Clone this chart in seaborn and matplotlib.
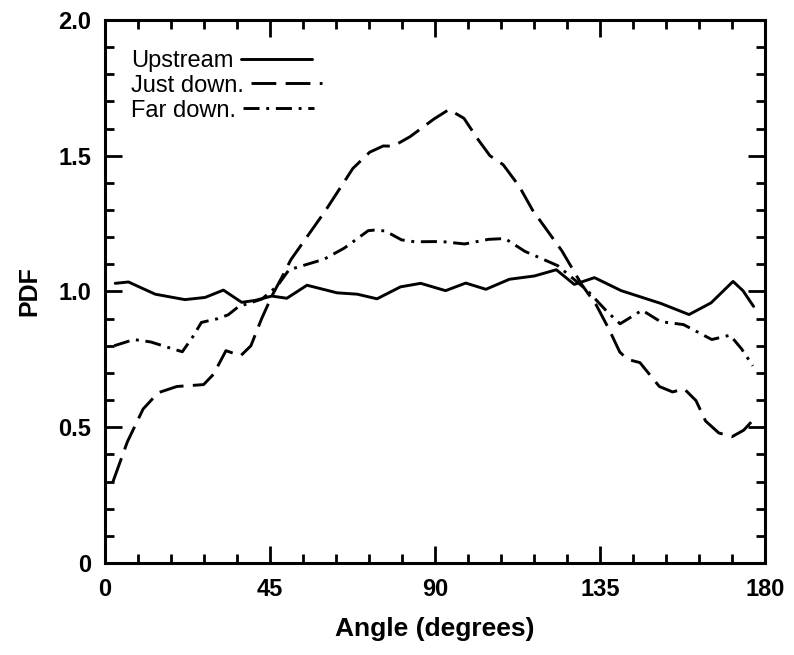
import numpy as np
import pandas as pd
import matplotlib
matplotlib.use("Agg")
import matplotlib.pyplot as plt
import seaborn as sns
from matplotlib.ticker import MultipleLocator

sns.set_theme(style="white")
plt.rcParams['font.family'] = ['Liberation Sans', 'DejaVu Sans']
plt.rcParams['text.color'] = 'black'
plt.rcParams['axes.labelcolor'] = 'black'
plt.rcParams['xtick.color'] = 'black'
plt.rcParams['ytick.color'] = 'black'

series_names = ['Upstream', 'Just down.', 'Far down.']

up_x = [2.8, 6.4, 13.7, 21.8, 27.3, 32.3, 37.3, 40.9, 45.5, 49.6, 55.1, 63.3, 68.8,
        74.2, 80.6, 86.1, 92.9, 98.4, 103.9, 110.3, 117.1, 123.1, 128.0, 133.5,
        140.8, 151.6, 159.3, 165.3, 171.3, 174.0, 176.9]
up_y = [1.03, 1.035, 0.99, 0.97, 0.978, 1.005, 0.96, 0.967, 0.983, 0.975, 1.023,
        0.995, 0.99, 0.973, 1.017, 1.03, 1.003, 1.031, 1.008, 1.045, 1.057, 1.08,
        1.026, 1.051, 1.003, 0.956, 0.915, 0.958, 1.037, 1.003, 0.945]

jd_x = [2.2, 6.1, 10.4, 14.5, 19.6, 26.9, 29.6, 33.0, 37.0, 39.8, 42.7, 45.5, 48.4,
        50.7, 60.1, 67.6, 72.2, 75.9, 78.6, 83.2, 89.7, 93.8, 97.9, 101.9, 105.0,
        108.6, 113.0, 116.6, 124.6, 130.0, 134.0, 137.5, 140.4, 142.5, 145.9, 151.2,
        154.8, 158.0, 161.2, 163.8, 167.4, 171.0, 174.2, 177.0]
jd_y = [0.30, 0.446, 0.567, 0.627, 0.65, 0.657, 0.695, 0.782, 0.763, 0.80, 0.899,
        0.983, 1.056, 1.117, 1.297, 1.453, 1.513, 1.536, 1.535, 1.57, 1.635, 1.67,
        1.638, 1.557, 1.50, 1.467, 1.387, 1.30, 1.15, 1.026, 0.95, 0.86, 0.777,
        0.75, 0.738, 0.65, 0.63, 0.641, 0.598, 0.523, 0.479, 0.465, 0.489, 0.53]

fd_x = [2.5, 7.9, 12.5, 17.9, 21.1, 23.9, 26.3, 30.8, 33.6, 36.4, 42.8, 47.0, 50.2,
        59.8, 65.3, 71.8, 73.5, 76.4, 80.9, 84.5, 91.8, 98.1, 104.6, 109.1, 114.5,
        123.5, 131.6, 137.0, 140.5, 146.5, 151.5, 157.8, 165.5, 170.5, 173.6, 176.7]
fd_y = [0.80, 0.823, 0.814, 0.791, 0.778, 0.832, 0.886, 0.90, 0.914, 0.944, 0.972,
        1.02, 1.08, 1.119, 1.16, 1.224, 1.226, 1.223, 1.19, 1.183, 1.184, 1.175,
        1.192, 1.195, 1.148, 1.095, 1.003, 0.925, 0.881, 0.931, 0.889, 0.878,
        0.823, 0.839, 0.789, 0.726]

x_ticks = [0, 45, 90, 135, 180]
x_tick_labels = ['0', '45', '90', '135', '180']
y_ticks = [0, 0.5, 1.0, 1.5, 2.0]
y_tick_labels = ['0', '0.5', '1.0', '1.5', '2.0']

frames = []
for name, xs, ys in zip(series_names, [up_x, jd_x, fd_x], [up_y, jd_y, fd_y]):
    frames.append(pd.DataFrame({'Angle': xs, 'PDF': ys, 'Series': name}))
df = pd.concat(frames, ignore_index=True)

fig = plt.figure(figsize=(7.94, 6.55), dpi=100)
ax = fig.add_axes([0.1322, 0.1405, 0.8312, 0.829])

LW = 2.1
dash_map = {'Upstream': '', 'Just down.': (8.5, 3.2), 'Far down.': (5.5, 2.3, 1, 2.3)}
sns.lineplot(data=df, x='Angle', y='PDF', hue='Series', style='Series',
             hue_order=series_names, style_order=series_names,
             palette=['black'] * 3, dashes=dash_map, estimator=None, sort=False,
             linewidth=LW, ax=ax)

leg = ax.get_legend()
handles = list(leg.legend_handles)
labels = [t.get_text() for t in leg.get_texts()]
pairs = [(h, l) for h, l in zip(handles, labels) if l in series_names]
for h, _ in pairs:
    h.set_linewidth(LW)
    h.set_color('black')
newleg = ax.legend([p[0] for p in pairs], [p[1] for p in pairs], loc='upper left',
                   bbox_to_anchor=(0.040, 0.945), frameon=False, markerfirst=False,
                   handlelength=3.0, handletextpad=0.3, labelspacing=0.12,
                   fontsize=17, borderaxespad=0, borderpad=0)
for col in newleg._legend_handle_box.get_children():
    col.align = 'left'

ax.set_xlim(0, 180)
ax.set_ylim(0, 2)
ax.set_xticks(x_ticks)
ax.set_xticklabels(x_tick_labels)
ax.set_yticks(y_ticks)
ax.set_yticklabels(y_tick_labels)
ax.xaxis.set_minor_locator(MultipleLocator(9))
ax.yaxis.set_minor_locator(MultipleLocator(0.1))
ax.tick_params(which='both', direction='in', top=True, right=True, bottom=True,
               left=True, width=2, color='black')
ax.tick_params(which='major', length=12, labelsize=17)
ax.tick_params(which='minor', length=6.5)
ax.tick_params(axis='x', which='major', pad=11)
ax.tick_params(axis='y', which='major', pad=10)
for lbl in ax.get_xticklabels() + ax.get_yticklabels():
    lbl.set_fontweight('bold')

for s in ax.spines.values():
    s.set_visible(True)
    s.set_color('black')
    s.set_linewidth(2.2)

ax.set_xlabel('Angle (degrees)', fontsize=19, fontweight='bold', labelpad=11)
ax.set_ylabel('PDF', fontsize=18, fontweight='bold', labelpad=12)

fig.savefig('out.png', dpi=100, facecolor='white')
